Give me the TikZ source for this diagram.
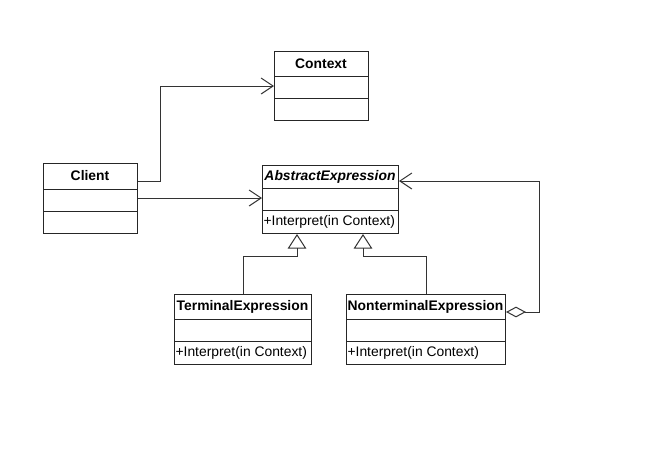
\documentclass[tikz,border=0pt]{standalone}
\usepackage{fontspec}
\setmainfont{Liberation Sans}
\usetikzlibrary{arrows.meta}
\begin{document}
\begin{tikzpicture}[x=0.75pt,y=-0.75pt,
  line width=0.75pt,
  classbox/.style={draw=black!85, inner sep=0pt, anchor=north west},
  divider/.style={draw=black!85},
  titletext/.style={font=\fontsize{10.4}{12}\selectfont\bfseries, inner sep=0pt},
  optext/.style={font=\fontsize{10.4}{12}\selectfont, inner sep=0.8pt, anchor=west},
  assoc/.style={draw=black!80, -{Straight Barb[length=9pt,width=12pt,line width=0.75pt]}},
  inh/.style={draw=black!80, -{Triangle[open,length=11pt,width=14pt,line width=0.75pt]}},
  agg/.style={draw=black!80, {Diamond[open,length=15pt,width=8pt,line width=0.75pt]}-{Straight Barb[length=9pt,width=12pt,line width=0.75pt]}}
]
\useasboundingbox (0,0) rectangle (668,455);
\fill[white] (0,0) rectangle (668,455);

% Context
\node[classbox, minimum width=70.5pt, minimum height=51.75pt] (ctx) at (274,51) {};
\draw[divider] (274,76) -- (368,76);
\draw[divider] (274,98) -- (368,98);
\node[titletext] (ctxt) at (321,63.5) {Context};

% Client
\node[classbox, minimum width=70.5pt, minimum height=52.5pt] (cli) at (43,163) {};
\draw[divider] (43,189) -- (137,189);
\draw[divider] (43,211) -- (137,211);
\node[titletext] (clit) at (90,176) {Client};

% AbstractExpression
\node[classbox, minimum width=102pt, minimum height=51pt] (abs) at (262,165) {};
\draw[divider] (262,188) -- (398,188);
\draw[divider] (262,210) -- (398,210);
\node[titletext, font=\fontsize{10.4}{12}\selectfont\bfseries\itshape] (abst) at (330,176.5) {AbstractExpression};
\node[optext] (abso) at (262,221.5) {+Interpret(in Context)};

% TerminalExpression
\node[classbox, minimum width=102.75pt, minimum height=52.5pt] (te) at (174,294) {};
\draw[divider] (174,319) -- (311,319);
\draw[divider] (174,341) -- (311,341);
\node[titletext] (tet) at (242.5,306.5) {TerminalExpression};
\node[optext] (teo) at (174,352.5) {+Interpret(in Context)};

% NonterminalExpression
\node[classbox, minimum width=119.25pt, minimum height=52.5pt] (nt) at (346,294) {};
\draw[divider] (346,319) -- (505,319);
\draw[divider] (346,341) -- (505,341);
\node[titletext] (ntt) at (425.5,306.5) {NonterminalExpression};
\node[optext] (nto) at (346,352.5) {+Interpret(in Context)};

% Connectors
\draw[assoc] (cli.east |- 0,181) -- (160,181) |- (ctx.west);
\draw[assoc] (cli.east |- 0,198) -- (abs.west |- 0,198);
\draw[inh] (te.north) |- (297,256) -- (abs.south -| 297,0);
\draw[inh] (nt.north) |- (363,256) -- (abs.south -| 363,0);
\draw[agg] (nt.east |- 0,312) -- (539,312) |- (abs.east |- 0,181);
\end{tikzpicture}
\end{document}
